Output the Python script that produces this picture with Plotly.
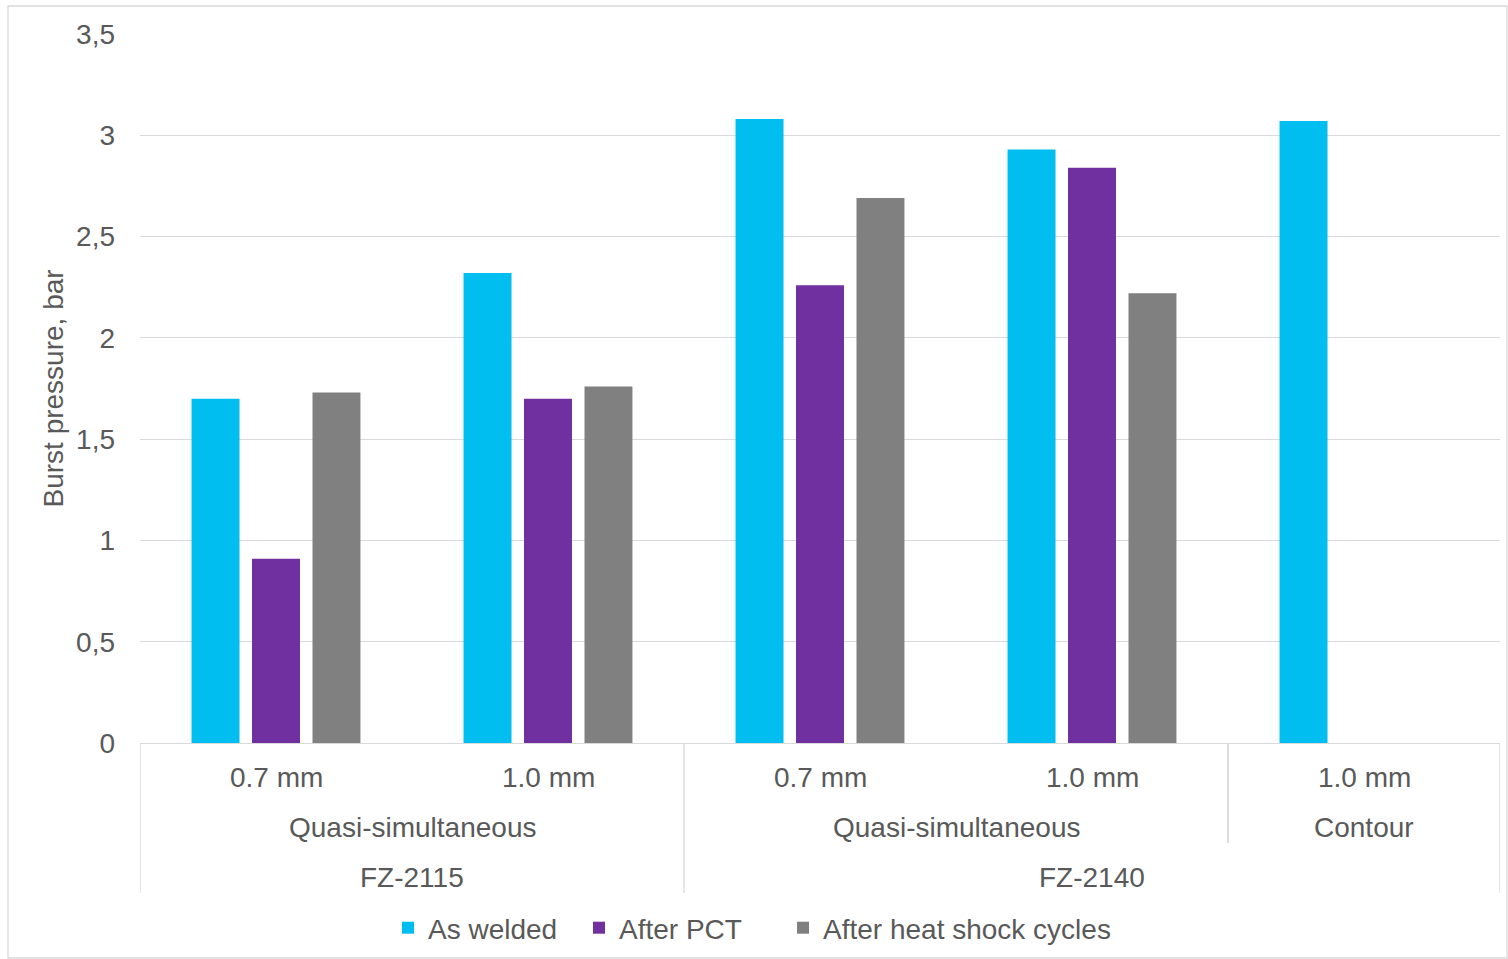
import plotly.graph_objects as go

# ---- data ----
thickness = ["0.7 mm", "1.0 mm", "0.7 mm", "1.0 mm", "1.0 mm"]
strategy_groups = [("Quasi-simultaneous", 0, 1), ("Quasi-simultaneous", 2, 3), ("Contour", 4, 4)]
material_groups = [("FZ-2115", 0, 1), ("FZ-2140", 2, 4)]

as_welded = [1.70, 2.32, 3.08, 2.93, 3.07]
after_pct = [0.91, 1.70, 2.26, 2.84, None]
after_heat = [1.73, 1.76, 2.69, 2.22, None]

series_names = ["As welded", "After PCT", "After heat shock cycles"]
series_colors = ["#00BEF0", "#7030A0", "#808080"]

y_tick_values = [0, 0.5, 1, 1.5, 2, 2.5, 3, 3.5]
y_tick_labels = ["0", "0,5", "1", "1,5", "2", "2,5", "3", "3,5"]

FONT = "Liberation Sans, Arial, sans-serif"
TXT = "#595959"
GRID = "#D9D9D9"
FS = 28

x = list(range(len(thickness)))

W, H = 1508, 959
L, R, T, B = 140, 8, 34, 216
plot_h = H - T - B

legend_ids = ["legend", "legend2", "legend3"]
legend_left_px = [388, 579, 783]

fig = go.Figure()
for name, vals, col, lid in zip(series_names, [as_welded, after_pct, after_heat], series_colors, legend_ids):
    fig.add_trace(go.Bar(x=x, y=vals, name=name, legend=lid,
                         marker=dict(color=col, line=dict(width=0))))

def py_to_paper(py):
    return (H - B - py) / plot_h

annotations = []
shapes = []
# level 1 labels
for i, lab in enumerate(thickness):
    annotations.append(dict(x=i, y=py_to_paper(777), xref="x", yref="paper", text=lab,
                            showarrow=False, font=dict(size=FS, color=TXT, family=FONT),
                            xanchor="center", yanchor="middle"))
# level 2 labels
for lab, a, b in strategy_groups:
    annotations.append(dict(x=(a + b) / 2, y=py_to_paper(827), xref="x", yref="paper", text=lab,
                            showarrow=False, font=dict(size=FS, color=TXT, family=FONT),
                            xanchor="center", yanchor="middle"))
# level 3 labels
for lab, a, b in material_groups:
    annotations.append(dict(x=(a + b) / 2, y=py_to_paper(877), xref="x", yref="paper", text=lab,
                            showarrow=False, font=dict(size=FS, color=TXT, family=FONT),
                            xanchor="center", yanchor="middle"))

# separators
line_style = dict(color=GRID, width=1.3)
full_bottom = py_to_paper(893)
mid_bottom = py_to_paper(843)
mat_edges = set()
for _, a, b in material_groups:
    mat_edges.add(a - 0.5)
    mat_edges.add(b + 0.5)
for e in sorted(mat_edges):
    shapes.append(dict(type="line", xref="x", yref="paper", x0=e, x1=e, y0=0, y1=full_bottom, line=line_style))
for _, a, b in strategy_groups:
    for e in (a - 0.5, b + 0.5):
        if e not in mat_edges:
            shapes.append(dict(type="line", xref="x", yref="paper", x0=e, x1=e, y0=0, y1=mid_bottom, line=line_style))

# outer chart border
shapes.append(dict(type="rect", xref="paper", yref="paper",
                   x0=(8 - L) / (W - L - R), x1=(1507 - L) / (W - L - R),
                   y0=py_to_paper(958), y1=py_to_paper(6),
                   line=dict(color=GRID, width=1.3), fillcolor="rgba(0,0,0,0)", layer="below"))

# y-axis title
annotations.append(dict(x=(53 - L) / (W - L - R), y=0.5, xref="paper", yref="paper",
                        text="Burst pressure, bar", textangle=-90, showarrow=False,
                        font=dict(size=FS, color=TXT, family=FONT), xanchor="center", yanchor="middle"))

legend_common = dict(orientation="h", xref="container", yref="container", y=1 - 928 / H,
                     xanchor="left", yanchor="middle", font=dict(size=FS, color=TXT, family=FONT),
                     itemwidth=30, bgcolor="rgba(0,0,0,0)")
legends = {lid: dict(legend_common, x=px / W) for lid, px in zip(legend_ids, legend_left_px)}

fig.update_layout(
    width=W, height=H,
    margin=dict(l=L, r=R, t=T, b=B, autoexpand=False),
    paper_bgcolor="white", plot_bgcolor="white",
    barmode="group", bargap=0.333, bargroupgap=0.207,
    font=dict(family=FONT, size=FS, color=TXT),
    showlegend=True,
    annotations=annotations,
    shapes=shapes,
    **legends,
)
fig.update_xaxes(range=[-0.5, len(thickness) - 0.5], showticklabels=False, showgrid=False,
                 zeroline=False, showline=True, linecolor=GRID, linewidth=1.3, ticks="")
fig.update_yaxes(range=[0, 3.5], tickvals=y_tick_values, ticktext=y_tick_labels, showgrid=True,
                 gridcolor=GRID, gridwidth=1.3, zeroline=False, showline=False, ticks="",
                 ticklabelstandoff=24, tickfont=dict(size=FS, color=TXT, family=FONT))

fig.write_html("out.html")
